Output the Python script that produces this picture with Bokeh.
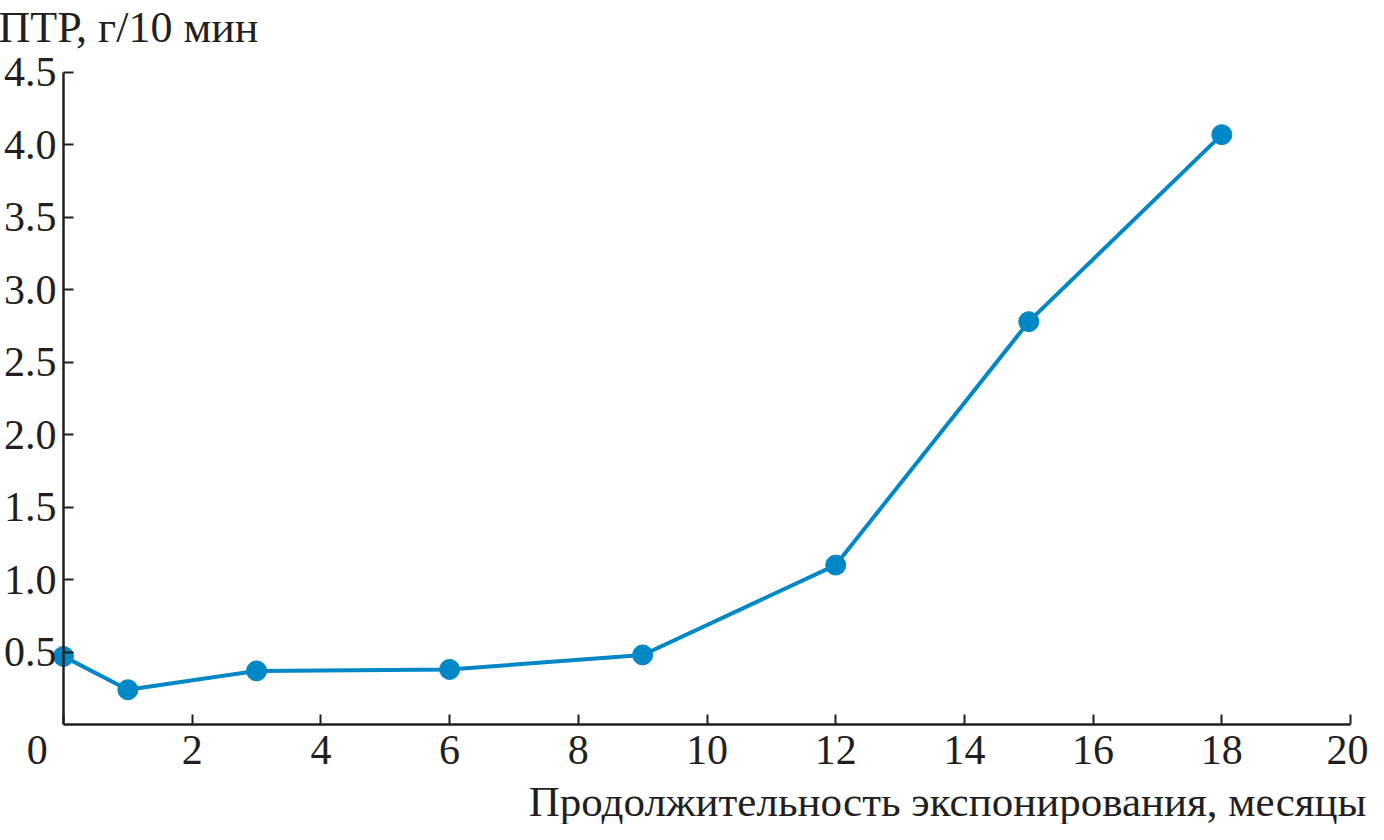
from bokeh.plotting import figure
from bokeh.models import Range1d, FixedTicker, PrintfTickFormatter, LinearAxis, Title
from bokeh.embed import file_html
from bokeh.resources import INLINE

# data
months = [0, 1, 3, 6, 9, 12, 15, 18]
mfr = [0.47, 0.24, 0.37, 0.38, 0.48, 1.10, 2.78, 4.07]
x_ticks = [0, 2, 4, 6, 8, 10, 12, 14, 16, 18, 20]
y_ticks = [0.5, 1.0, 1.5, 2.0, 2.5, 3.0, 3.5, 4.0, 4.5]
y_title = "ПТР, г/10 мин"
x_title = "Продолжительность экспонирования, месяцы"
origin_label = "0"

FONT = "Liberation Serif"
FS = "42px"
INK = "#231f20"
BLUE = "#0087c5"

# frame extends a little beyond x=0 (left) and y=4.5 (top) so that the
# first marker is not clipped and the title can sit higher
p = figure(width=1368, height=824, x_range=Range1d(-0.171, 20), y_range=Range1d(0, 4.644),
           output_backend="svg", toolbar_location=None,
           min_border_left=52, min_border_right=18, min_border_top=49, min_border_bottom=88)
p.outline_line_color = None
p.grid.visible = False
p.background_fill_color = "white"
p.border_fill_color = "white"


def style(ax):
    ax.axis_line_color = INK
    ax.axis_line_width = 2.5
    ax.major_tick_line_color = INK
    ax.major_tick_line_width = 2
    ax.major_tick_in = 10
    ax.major_tick_out = 0
    ax.minor_tick_line_color = None
    ax.major_label_text_font = FONT
    ax.major_label_text_font_size = FS
    ax.major_label_text_color = INK


xa = p.xaxis[0]
style(xa)
xa.ticker = FixedTicker(ticks=x_ticks)
xa.bounds = (0, 20)
xa.major_label_overrides = {0: origin_label + "\u00a0" * 5}
xa.major_label_standoff = 2

# left axis: labels only (sits at the frame edge)
ya = p.yaxis[0]
style(ya)
ya.ticker = FixedTicker(ticks=y_ticks)
ya.formatter = PrintfTickFormatter(format="%.1f")
ya.major_label_standoff = -4
ya.axis_line_color = None
ya.major_tick_line_color = None

# axis line and ticks at x = 0
ya0 = LinearAxis(fixed_location=0, ticker=FixedTicker(ticks=y_ticks), bounds=(0, 4.5))
style(ya0)
ya0.major_label_text_color = None
p.add_layout(ya0, "left")

p.line(months, mfr, line_color=BLUE, line_width=4)
p.scatter(months, mfr, size=20, fill_color=BLUE, line_color=BLUE)

p.title.text = y_title
p.title.align = "left"
p.title.vertical_align = "bottom"
p.title.offset = -54
p.title.standoff = 0
p.title.text_font = FONT
p.title.text_font_size = "44px"
p.title.text_font_style = "normal"
p.title.text_color = INK

p.add_layout(Title(text=x_title, align="right", offset=-16, standoff=0,
                   text_font=FONT, text_font_size="43px", text_font_style="normal",
                   text_color=INK), "below")

open("out.html", "w").write(file_html(p, INLINE))
